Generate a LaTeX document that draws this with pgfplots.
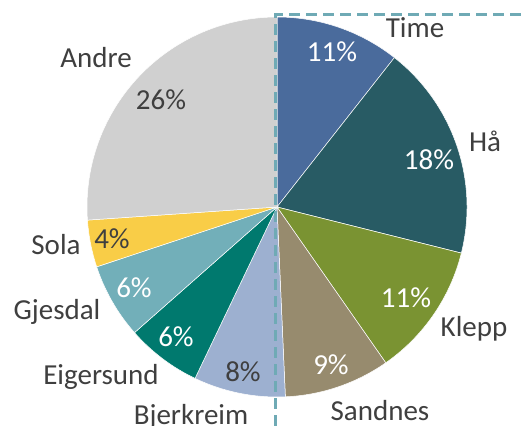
\documentclass[border=0pt]{standalone}
\usepackage{fontspec}
\setmainfont{Carlito}
\usepackage{pgfplots}
\usepackage{pgfplotstable}
\pgfplotsset{compat=1.18}

\definecolor{cTime}{HTML}{4A6B9C}
\definecolor{cHa}{HTML}{285B64}
\definecolor{cKlepp}{HTML}{7A9332}
\definecolor{cSandnes}{HTML}{978B6E}
\definecolor{cBjerkreim}{HTML}{9DB0D0}
\definecolor{cEigersund}{HTML}{00796E}
\definecolor{cGjesdal}{HTML}{72AFB9}
\definecolor{cSola}{HTML}{F9CD47}
\definecolor{cAndre}{HTML}{D0D0D0}
\definecolor{txt}{HTML}{3F3F3F}
\definecolor{guide}{HTML}{6FAAB5}

% share in percent, label text, slice colour, label colour, name and percent positions
\pgfplotstableread[col sep=comma]{
name,value,pct,col,tc,lx,ly,px,py
Time,10.6,11,cTime,white,415,388,332,364
Hå,18.3,18,cHa,white,485,274,429,256
Klepp,11.4,11,cKlepp,white,474,89,406,118
Sandnes,9.0,9,cSandnes,white,380,6,331,51
Bjerkreim,7.8,8,cBjerkreim,txt,191,2,243,44
Eigersund,6.4,6,cEigersund,white,101,41,176,79
Gjesdal,6.4,6,cGjesdal,white,57,106,134,128
Sola,4.0,4,cSola,txt,56,171,112,177
Andre,26.1,26,cAndre,txt,96,358,161,316
}\piedata

\begin{document}
\begin{tikzpicture}
\begin{axis}[
    at={(0,0)}, anchor=south west,
    width=521bp, height=426bp,
    scale only axis,
    xmin=0, xmax=521, ymin=0, ymax=426,
    hide axis,
    clip=false,
    font=\fontsize{29bp}{34bp}\selectfont,
]
\pgfplotstablegetrowsof{\piedata}
\pgfmathtruncatemacro\nrows{\pgfplotsretval-1}
\def\angA{90}
\pgfplotsforeachungrouped \i in {0,...,\nrows}{
    \pgfplotstablegetelem{\i}{value}\of\piedata \let\v\pgfplotsretval
    \pgfplotstablegetelem{\i}{col}\of\piedata \let\c\pgfplotsretval
    \pgfplotstablegetelem{\i}{tc}\of\piedata \let\tc\pgfplotsretval
    \pgfplotstablegetelem{\i}{name}\of\piedata \let\n\pgfplotsretval
    \pgfplotstablegetelem{\i}{pct}\of\piedata \let\p\pgfplotsretval
    \pgfplotstablegetelem{\i}{lx}\of\piedata \let\lx\pgfplotsretval
    \pgfplotstablegetelem{\i}{ly}\of\piedata \let\ly\pgfplotsretval
    \pgfplotstablegetelem{\i}{px}\of\piedata \let\px\pgfplotsretval
    \pgfplotstablegetelem{\i}{py}\of\piedata \let\py\pgfplotsretval
    \pgfmathsetmacro\angB{\angA-3.6*\v}
    \edef\tmp{%
        \noexpand\fill[\c, draw=white, line width=0.5bp]
            (axis cs:277,219) -- ++(\angA:190bp)
            arc[start angle=\angA, end angle=\angB, radius=190bp] -- cycle;
        \noexpand\node[anchor=base, text=txt] at (axis cs:\lx,\ly) {\n};
        \noexpand\node[anchor=base, text=\tc] at (axis cs:\px,\py) {\p\noexpand\%};
    }
    \tmp
    \let\angA\angB
}
\addplot[guide, line width=2.8bp, dash pattern=on 11bp off 6bp]
    coordinates {(275.5,0) (275.5,411.5) (521,411.5)};
\end{axis}
\pgfresetboundingbox
\useasboundingbox (0,0) rectangle (521bp,426bp);
\end{tikzpicture}
\end{document}
